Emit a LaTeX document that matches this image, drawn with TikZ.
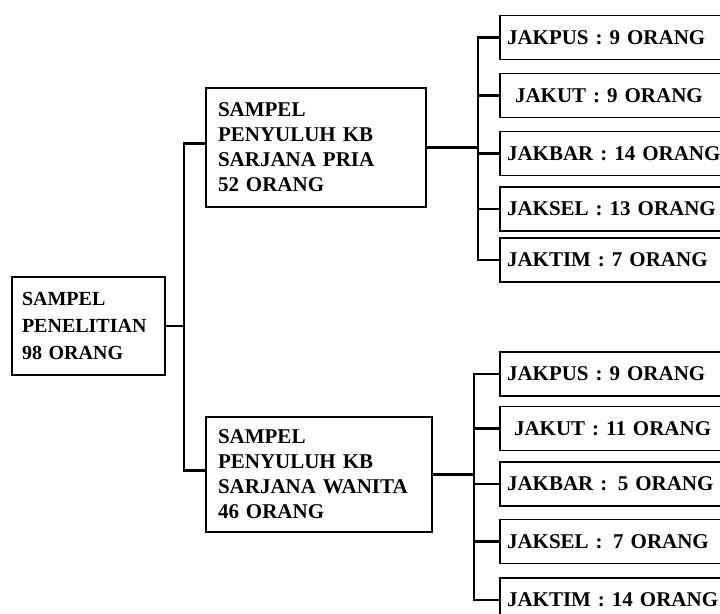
\documentclass[tikz,border=0pt]{standalone}
\usepackage{fontspec}
\setmainfont{Liberation Serif}
\usetikzlibrary{calc}
\begin{document}
\begin{tikzpicture}[x=1pt,y=-1pt,
  box/.style={draw, line width=1.6pt, rectangle, align=left, anchor=center, inner sep=0pt, font=\bfseries},
  big/.style={box, font=\fontsize{21}{25}\bfseries\selectfont},
  leaf/.style={box, minimum width=240pt, minimum height=44pt, text width=226pt, font=\fontsize{21}{25}\bfseries\selectfont},
  conn/.style={line width=2.2pt}]
\useasboundingbox (0,0) rectangle (720,613);
\clip (0,0) rectangle (720,613);
% root
\node[box, minimum width=153pt, minimum height=98pt, text width=133pt,
  font=\fontsize{20}{27}\bfseries\selectfont] (root) at (88.5,326) {SAMPEL\\PENELITIAN\\98 ORANG};
% middle
\node[big, minimum width=220pt, minimum height=119pt, text width=196pt] (pm) at (316,147.5)
  {SAMPEL\\PENYULUH KB\\SARJANA PRIA\\52 ORANG};
\node[big, minimum width=226pt, minimum height=115pt, text width=202pt] (wm) at (319,474.5)
  {SAMPEL\\PENYULUH KB\\SARJANA WANITA\\46 ORANG};
% upper leaves
\node[leaf] (u1) at (620,37.5) {JAKPUS : 9 ORANG};
\node[leaf] (u2) at (620,95.5) {\hspace{8pt}JAKUT : 9 ORANG};
\node[leaf] (u3) at (620,153.5) {JAKBAR : 14 ORANG};
\node[leaf] (u4) at (620,209) {JAKSEL : 13 ORANG};
\node[leaf] (u5) at (620,260) {JAKTIM : 7 ORANG};
% lower leaves
\node[leaf] (l1) at (620,374) {JAKPUS : 9 ORANG};
\node[leaf] (l2) at (620,428.5) {\hspace{7pt}JAKUT : 11 ORANG};
\node[leaf] (l3) at (620,484) {JAKBAR : \,5 ORANG};
\node[leaf] (l4) at (620,541.5) {JAKSEL : \,7 ORANG};
\node[leaf] (l5) at (620,600) {JAKTIM : 14 ORANG};
% connectors: root to middle
\draw[conn] (root.east) -- ++(18,0) coordinate (j);
\draw[conn] ($(pm.west)+(0,-4)$) -| (j) |- ($(wm.west)+(0,-4)$);
% upper bracket
\draw[conn] (pm.east) -- ++(51,0) coordinate (k);
\draw[conn] (u1.west) -| (k) |- (u5.west);
\draw[conn] (u2.west) -- (u2.west -| k);
\draw[conn] (u3.west) -- (u3.west -| k);
\draw[conn] (u4.west) -- (u4.west -| k);
% lower bracket
\draw[conn] (wm.east) -- ++(41,0) coordinate (m);
\draw[conn] (l1.west) -| (m) |- (l5.west);
\draw[conn] (l2.west) -- (l2.west -| m);
\draw[conn] (l3.west) -- (l3.west -| m);
\draw[conn] (l4.west) -- (l4.west -| m);
\end{tikzpicture}
\end{document}
